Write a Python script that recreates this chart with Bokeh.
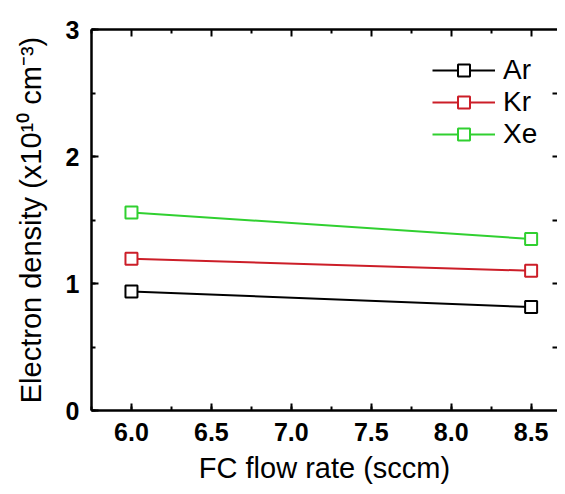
import numpy as np
from bokeh.plotting import figure
from bokeh.models import (Range1d, LinearAxis, SingleIntervalTicker, FixedTicker,
                          Legend, NumeralTickFormatter)
from bokeh.embed import file_html
from bokeh.resources import INLINE

# Data
flow_rate = [6.0, 8.5]
ar = [0.937, 0.814]
kr = [1.194, 1.100]
xe = [1.560, 1.351]
series_names = ["Ar", "Kr", "Xe"]
series_colors = ["#000000", "#cc1e28", "#30d030"]
x_title = "FC flow rate (sccm)"
y_title = "Electron density (x10\u00b9\u2070 cm\u207b\u00b3)"

FONT = "Liberation Sans"
X0, X1 = 5.75, 8.665
Y0, Y1 = 0, 3

p = figure(width=557, height=486, output_backend="svg", toolbar_location=None,
           x_range=Range1d(X0, X1), y_range=Range1d(Y0, Y1),
           min_border_left=91, min_border_right=0, min_border_top=29, min_border_bottom=75,
           background_fill_color="white", border_fill_color="white")
p.outline_line_color = None
p.grid.visible = False

def style_axis(ax, labels=True):
    ax.axis_line_width = 2.5
    ax.axis_line_color = "black"
    ax.major_tick_in = 7
    ax.major_tick_out = 0
    ax.minor_tick_in = 4
    ax.minor_tick_out = 0
    ax.major_tick_line_width = 2
    ax.minor_tick_line_width = 2
    ax.major_tick_line_color = "black"
    ax.minor_tick_line_color = "black"
    if labels:
        ax.major_label_text_font = FONT
        ax.major_label_text_font_style = "bold"
        ax.major_label_text_font_size = "25px"
        ax.major_label_text_color = "black"
    else:
        ax.major_label_standoff = 0
        ax.axis_label = None

xa = p.xaxis[0]
xa.ticker = SingleIntervalTicker(interval=0.5, num_minor_ticks=2)
xa.formatter = NumeralTickFormatter(format="0.0")
style_axis(xa)
xa.major_label_standoff = 12
xa.axis_label = x_title
xa.axis_label_text_font = FONT
xa.axis_label_text_font_style = "normal"
xa.axis_label_text_font_size = "29px"
xa.axis_label_text_color = "black"
xa.axis_label_standoff = 8

ya = p.yaxis[0]
ya.ticker = SingleIntervalTicker(interval=1, num_minor_ticks=2)
style_axis(ya)
ya.major_label_standoff = 12
ya.axis_label = y_title
ya.axis_label_text_font = FONT
ya.axis_label_text_font_style = "normal"
ya.axis_label_text_font_size = "29px"
ya.axis_label_text_color = "black"
ya.axis_label_standoff = 16

# top frame with inward ticks (no labels)
halves_x = list(np.arange(5.5, 9.0, 0.5))
quarters_x = list(np.arange(5.75, 9.0, 0.5))
top1 = LinearAxis(ticker=FixedTicker(ticks=[], minor_ticks=halves_x))
style_axis(top1, labels=False)
top1.minor_tick_in = 7
p.add_layout(top1, "above")
top2 = LinearAxis(ticker=FixedTicker(ticks=[], minor_ticks=quarters_x))
style_axis(top2, labels=False)
top2.axis_line_color = None
top2.minor_tick_in = 4
p.add_layout(top2, "above")

# right side ticks (frame line lies beyond the visible area)
halves_y = list(np.arange(0.5, 3.0, 0.5))
right = LinearAxis(ticker=FixedTicker(ticks=[], minor_ticks=halves_y))
style_axis(right, labels=False)
right.axis_line_color = None
right.minor_tick_in = 5
p.add_layout(right, "right")

items = []
for name, vals, col in zip(series_names, [ar, kr, xe], series_colors):
    ln = p.line(flow_rate, vals, line_color=col, line_width=2)
    sc = p.scatter(flow_rate, vals, marker="square", size=12, fill_color="white",
                   line_color=col, line_width=2)
    items.append((name, [ln, sc]))

legend = Legend(items=items, location=(341, 260))
legend.border_line_color = None
legend.background_fill_alpha = 0
legend.padding = 0
legend.margin = 0
legend.spacing = 0
legend.glyph_width = 63
legend.glyph_height = 30
legend.label_height = 30
legend.label_standoff = 8
legend.label_text_font = FONT
legend.label_text_font_size = "28px"
legend.label_text_color = "black"
p.add_layout(legend, "center")

open("out.html", "w").write(file_html(p, INLINE))
